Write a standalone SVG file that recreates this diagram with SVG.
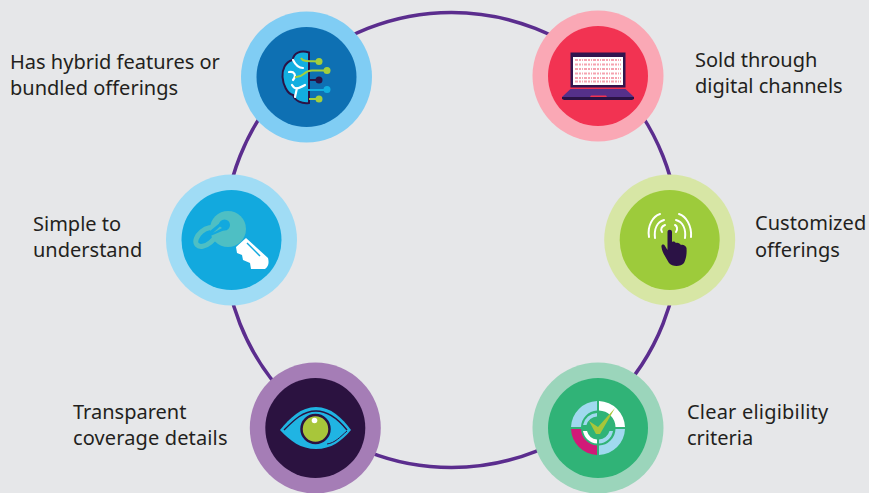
<svg xmlns="http://www.w3.org/2000/svg" width="869" height="493" viewBox="0 0 869 493">
<style>
text{font-family:"Noto Sans","Open Sans",sans-serif;font-size:20px;fill:#231f20}
.w{fill:none;stroke:#fff;stroke-linecap:round}
.ln{fill:none;stroke-width:2}
</style>
<rect width="869" height="493" fill="#e6e7e9"/>
<g id="connectors"><circle cx="451.500" cy="240" r="227.500" fill="none" stroke="#5b2d8e" stroke-width="3.500"/></g>

<g id="node-hybrid">
<circle cx="306.500" cy="77" r="65.500" fill="#80cdf4"/><circle cx="306.500" cy="77" r="50" fill="#0e70b3"/>
<path d="M309 52.500C300 50 294 53 292.500 60C285 62 282 70 282.500 77C283 84 287 94 293 95C295 101 302 104 309 103Z" fill="#12aee0" stroke="#2b1245" stroke-width="2"/>
<path class="w" stroke-width="2.200" d="M293 60C296 66 299 68 303 68M289 72C294 71 297 75 293 80M292 85C295 90 298 89 305 85M297 88L295 97"/>
<path class="ln" stroke="#a4cf3c" d="M301 58C303 62 309 61 319 61.500"/><circle cx="319" cy="61.500" r="3.500" fill="#a4cf3c"/>
<path class="ln" stroke="#a4cf3c" d="M295 77C304 78 303 70.500 312 70.500H327"/><circle cx="327" cy="70.500" r="3.500" fill="#a4cf3c"/>
<path class="ln" stroke="#2b1245" d="M309 80H319"/><circle cx="319" cy="80" r="3.500" fill="#2b1245"/>
<path class="ln" stroke="#12aee0" d="M304 90H327"/><circle cx="327" cy="89.500" r="3.500" fill="#12aee0"/>
<path class="ln" stroke="#a4cf3c" d="M309 99H319"/><circle cx="319" cy="99" r="3.500" fill="#a4cf3c"/>
<text x="10" y="69">Has hybrid features or</text><text x="10" y="95">bundled offerings</text>
</g>

<g id="node-digital">
<circle cx="598" cy="76" r="65.500" fill="#faa8b5"/><circle cx="598" cy="76" r="50" fill="#f23352"/>
<rect x="570.500" y="52.500" width="55" height="35" fill="#32154f"/>
<rect x="573" y="57" width="50" height="28" fill="#fff"/>
<path d="M575 60H621M575 64.500H621M575 69H621M575 73.500H621M575 78H621M575 81.500H621" stroke="#f5a3b0" stroke-width="2" stroke-dasharray="3 1 2 1 1 1"/>
<path d="M570.500 89H625.500L634 97H562Z" fill="#55308a"/>
<path d="M562 97H634V99L632 100H564L562 99Z" fill="#2b1245"/>
<path d="M591 95.500H606L607 97H590Z" fill="#f23352"/>
<text x="695" y="67">Sold through</text><text x="695" y="93">digital channels</text>
</g>

<g id="node-custom">
<circle cx="669.700" cy="240" r="65.500" fill="#d7e6a5"/><circle cx="669.700" cy="240" r="50" fill="#9dcb3b"/>
<path class="w" stroke-width="2" d="M649 237C647 226 653 216 660 214M655 238C654 229 657 222 664 220M662 232C660 229 662 226 665 225M691 237C692 226 686 216 679 214M685 238C686 229 683 222 676 220M676 232C678 229 677 226 675 225"/>
<path d="M667.500 232C667.500 229 672 229 672 232V242C674 241 675 242 676 243C678 242 680 244 681 245C683 244 686 246 686.500 248C687 254 686 259 684 263C681 267 672 267 669 263C666 258 662 252 661.500 247C661 244 664 244 665 246L667.500 250Z" fill="#2b1245"/>
<text x="755" y="230" letter-spacing=".05">Customized</text><text x="755" y="257">offerings</text>
</g>

<g id="node-simple">
<circle cx="231.500" cy="240" r="65.500" fill="#a0dcf5"/><circle cx="231.500" cy="240" r="50" fill="#12a9de"/>
<ellipse cx="206" cy="237" rx="12" ry="7" transform="rotate(-40 206 237)" fill="none" stroke="#4ebfc4" stroke-width="5"/>
<circle cx="228" cy="229" r="18" fill="#4ebfc4"/>
<circle cx="224.500" cy="225" r="5.500" fill="#12a9de"/>
<path d="M221 222L227 229L208 237L210 231Z" fill="#12a9de"/>
<path d="M213 233L220 226.500L222 228Z" fill="#4ebfc4"/>
<path d="M246 238L268 258C269 262 269 266 265 269H251L250 263L243 260L242 255L237 253L236 247Z" fill="#fff"/>
<path d="M247 243L260 256" stroke="#12a9de" stroke-width="1.500"/>
<text x="33" y="231">Simple to</text><text x="33" y="257">understand</text>
</g>

<g id="node-transparent">
<circle cx="315.300" cy="428" r="65.500" fill="#a57db6"/><circle cx="315.300" cy="428" r="50" fill="#2b1240"/>
<path d="M280 430C290 418 301 407 316 407C331 407 342 418 351 430C342 441 331 449 316 449C301 449 290 441 280 430Z" fill="#20b4e3"/>
<path d="M284 430C294 420 303 411 316 411C329 411 339 420 347 430" fill="none" stroke="#2b1240" stroke-width="1.400"/>
<path d="M327 444C335 443 340 437 347 431" fill="none" stroke="#2b1240" stroke-width="1"/>
<circle cx="315.500" cy="429" r="14" fill="#a8c63a" stroke="#2b1240" stroke-width="2.500"/>
<circle cx="314.500" cy="420.500" r="2.800" fill="#fff"/>
<text x="73" y="419">Transparent</text><text x="73" y="445" letter-spacing=".13">coverage details</text>
</g>

<g id="node-clear">
<circle cx="598" cy="428" r="65.500" fill="#9bd5bb"/><circle cx="598" cy="428" r="50" fill="#30b377"/>
<path d="M571 427A27 27 0 0 1 597 401V410.500A17 17 0 0 0 581 427Z" fill="#a0d9ef"/>
<path d="M599 401A27 27 0 0 1 625 427H615.500A17 17 0 0 0 599 410.500Z" fill="#fff"/>
<path d="M625 429A27 27 0 0 1 599 455V445.500A17 17 0 0 0 615.500 429Z" fill="#a0d9ef"/>
<path d="M597 455A27 27 0 0 1 571 429H581A17 17 0 0 0 597 445.500Z" fill="#d11a78"/>
<path d="M583 425A15 15 0 0 1 597 413V416.500A11.500 11.500 0 0 0 586.500 425Z" fill="#a0d9ef"/>
<path d="M583 431A15 15 0 0 0 597 443.500V439.500A11.500 11.500 0 0 1 587 431Z" fill="#fff"/>
<path d="M599 443.500A15 15 0 0 0 613 431H609.500A11.500 11.500 0 0 1 599 439.500Z" fill="#a0d9ef"/>
<path d="M589 421L598 427L615 408L600 434H596Z" fill="#a8c63a"/>
<text x="687" y="419" letter-spacing=".2">Clear eligibility</text><text x="687" y="445">criteria</text>
</g>
</svg>
